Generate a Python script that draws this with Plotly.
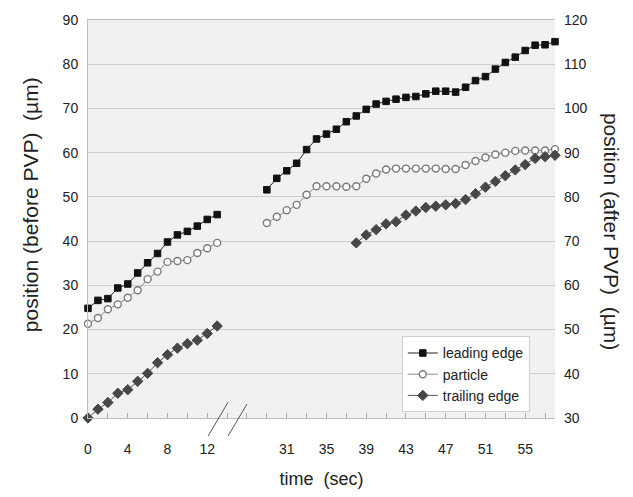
import plotly.graph_objects as go

# --- data -----------------------------------------------------------------
# time points (s) recorded before PVP and after PVP
t_before = list(range(0, 14))
t_after = list(range(29, 59))
t_trail_after = list(range(38, 59))

# positions before PVP (left axis, µm)
lead_before = [24.8, 26.6, 27.0, 29.4, 30.3, 32.8, 35.1, 37.2, 39.8, 41.4, 42.2, 43.4, 44.9, 46.0]
part_before = [21.3, 22.6, 24.6, 25.7, 27.2, 28.9, 31.4, 33.1, 35.3, 35.5, 35.7, 37.3, 38.4, 39.6]
trail_before = [0.0, 2.0, 3.5, 5.6, 6.4, 8.3, 10.1, 12.5, 14.3, 15.8, 16.8, 17.6, 19.1, 20.8]

# positions after PVP (right axis, µm)
lead_after = [81.6, 84.2, 85.9, 87.6, 90.7, 93.1, 94.2, 95.3, 97.0, 98.3,
              99.8, 101.0, 101.6, 102.1, 102.5, 102.7, 103.3, 103.9, 103.9, 103.7,
              104.8, 106.3, 107.2, 108.9, 110.4, 111.6, 113.1, 114.3, 114.4, 115.1]
part_after = [74.1, 75.5, 77.0, 78.2, 80.5, 82.4, 82.4, 82.4, 82.3, 82.4,
              84.1, 85.3, 86.2, 86.4, 86.4, 86.4, 86.4, 86.4, 86.3, 86.3,
              87.2, 88.1, 88.9, 89.6, 90.0, 90.4, 90.5, 90.5, 90.5, 90.8]
trail_after = [69.6, 71.4, 72.6, 73.9, 74.4, 75.9, 76.8, 77.6, 77.9, 78.2,
               78.5, 79.4, 80.7, 82.2, 83.5, 84.8, 86.1, 87.3, 88.7, 89.1, 89.4]

labelled_times = [0, 4, 8, 12, 31, 35, 39, 43, 47, 51, 55]
series_names = ["leading edge", "particle", "trailing edge"]

# --- broken time axis -------------------------------------------------------
BREAK_AT = 14      # first second hidden by the axis break
BREAK_SHIFT = 11   # seconds removed by the break


def pos(t):
    return t if t < BREAK_AT else t - BREAK_SHIFT


def time_at(p):
    return p if p < BREAK_AT else p + BREAK_SHIFT


FONT = "Liberation Sans, Arial, sans-serif"
styles = {
    "leading edge": dict(marker=dict(symbol="square", size=6.5, color="#111111",
                                     line=dict(color="#111111", width=1)),
                         line=dict(color="#222222", width=1)),
    "particle": dict(marker=dict(symbol="circle", size=7, color="#ffffff",
                                 line=dict(color="#7a7a7a", width=1.4)),
                     line=dict(color="#8a8a8a", width=1)),
    "trailing edge": dict(marker=dict(symbol="diamond", size=8, color="#474747",
                                      line=dict(color="#474747", width=1)),
                          line=dict(color="#555555", width=1)),
}

fig = go.Figure()

before = {"leading edge": (t_before, lead_before),
          "particle": (t_before, part_before),
          "trailing edge": (t_before, trail_before)}
after = {"leading edge": (t_after, lead_after),
         "particle": (t_after, part_after),
         "trailing edge": (t_trail_after, trail_after)}

for name in series_names:
    tb, vb = before[name]
    fig.add_trace(go.Scatter(
        x=[pos(t) for t in tb], y=vb, name=name, legendgroup=name,
        mode="lines+markers", cliponaxis=False, yaxis="y", **styles[name]))
for name in series_names:
    ta, va = after[name]
    fig.add_trace(go.Scatter(
        x=[pos(t) for t in ta], y=va, name=name, legendgroup=name, showlegend=False,
        mode="lines+markers", cliponaxis=False, yaxis="y2", **styles[name]))

tick_positions = list(range(0, pos(58), 2))
tick_labels = [str(time_at(p)) if time_at(p) in labelled_times else "" for p in tick_positions]

grid = "#cdcdcd"
frame = "#bdbdbd"

fig.update_layout(
    width=633, height=497,
    margin=dict(l=88, r=78, t=17, b=76),
    paper_bgcolor="white",
    plot_bgcolor="#f1f1f1",
    font=dict(family=FONT, size=14, color="#222222"),
    showlegend=True,
    legend=dict(x=0.672, y=0.205, xanchor="left", yanchor="top",
                bgcolor="white", bordercolor="#d0d0d0", borderwidth=1,
                font=dict(size=14, color="#222222"), tracegroupgap=0,
                itemwidth=30),
    xaxis=dict(range=[0, pos(58)], tickmode="array", tickvals=tick_positions,
               ticktext=tick_labels, ticks="inside", ticklen=5, tickcolor="#aaaaaa",
               showgrid=False, zeroline=False, showline=True, linecolor=frame,
               mirror=True, ticklabelstandoff=18,
               title=dict(text="time  (sec)", font=dict(size=18), standoff=16)),
    yaxis=dict(range=[0, 90], dtick=10, showgrid=True, gridcolor=grid, zeroline=False,
               showline=True, linecolor=frame, ticks="", ticklabelstandoff=6),
    yaxis2=dict(range=[30, 120], dtick=10, overlaying="y", side="right",
                showgrid=False, zeroline=False, showline=False, ticks="",
                ticklabelstandoff=8),
    annotations=[
        dict(text="position (before PVP)  (µm)", textangle=-90, showarrow=False,
             xref="paper", yref="paper", x=-0.124, y=0.535, xanchor="center",
             yanchor="middle", font=dict(size=21, color="#222222")),
        dict(text="position (after PVP)  (µm)", textangle=90, showarrow=False,
             xref="paper", yref="paper", x=1.12, y=0.47, xanchor="center",
             yanchor="middle", font=dict(size=21, color="#222222")),
    ],
    shapes=[
        dict(type="line", xref="x", yref="paper", x0=12.1, y0=-0.045, x1=14.1, y1=0.04,
             line=dict(color="#555555", width=1)),
        dict(type="line", xref="x", yref="paper", x0=14.1, y0=-0.045, x1=16.0, y1=0.035,
             line=dict(color="#555555", width=1)),
    ],
)

fig.write_html("out.html")
